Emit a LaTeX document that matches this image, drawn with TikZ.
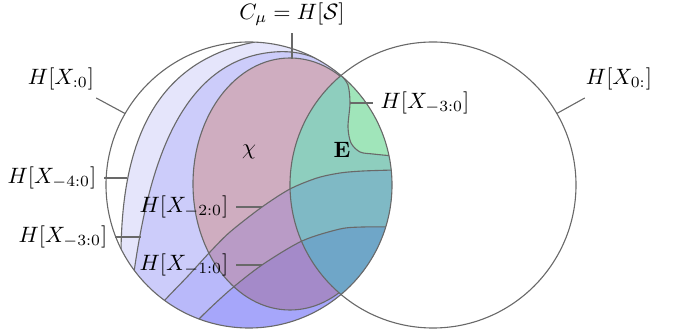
\documentclass[tikz,border=0pt]{standalone}
\usepackage{amsmath, amssymb}
\usepackage{xcolor}
\usepackage{tikz}
\usetikzlibrary{calc}
\definecolor{linegray}{RGB}{105,105,105}
\definecolor{lavfour}{RGB}{229,229,251}
\definecolor{lavthree}{RGB}{204,204,250}
\definecolor{bluetwo}{RGB}{185,185,250}
\definecolor{blueone}{RGB}{166,166,250}
\definecolor{cmupink}{RGB}{207,173,192}
\definecolor{cmutwo}{RGB}{185,155,198}
\definecolor{cmuone}{RGB}{164,138,201}
\definecolor{eeteal}{RGB}{142,206,190}
\definecolor{eegreen}{RGB}{160,229,186}
\definecolor{eetwo}{RGB}{127,185,197}
\definecolor{eeone}{RGB}{111,166,200}

% boundaries of the nested past blocks (pixel grid, y down)
\newcommand{\curveone}{(121,252) .. controls (122,150) and (150,62) .. (255,42)}
\newcommand{\curvetwo}{(134,272) .. controls (146,190) and (170,72) .. (260,54) .. controls (300,46) and (325,60) .. (341,75)}
\newcommand{\piececurve}{plot[smooth] coordinates {(341,75) (348,85) (350,103) (348,127) (351,143) (360,152) (373,154) (393,156)}}
\newcommand{\curvea}{plot[smooth] coordinates {(150,318) (165,300) (188,276) (210,252) (230,232) (262,207) (290,189) (317,178) (340,173) (363,171) (395,170)}}
\newcommand{\curveb}{plot[smooth] coordinates {(185,336) (200,318) (230,290) (262,265) (302,241) (340,229) (363,227) (390,227)}}

\begin{document}
\begin{tikzpicture}[x=0.45pt, y=-0.45pt,
  outline/.style={draw=linegray, line width=0.5pt},
  leader/.style={draw=linegray, line width=0.5pt}]
\useasboundingbox (0,0) rectangle (677,331);

% --- Past blocks ---
\begin{scope}
\clip (249,185) circle (143);
\fill[lavfour] \curveone -- (255,30) -- (450,30) -- (450,400) -- (100,400) -- (100,255) -- cycle;
\fill[lavthree] \curvetwo -- plot[smooth] coordinates {(341,75) (348,85) (350,103) (348,127) (351,143) (360,152) (373,154) (393,156)}
  -- (460,156) -- (460,400) -- (100,400) -- (100,290) -- cycle;
\fill[bluetwo] \curvea -- (460,170) -- (460,400) -- (100,400) -- cycle;
\fill[blueone] \curveb -- (460,227) -- (460,400) -- (150,400) -- cycle;
\end{scope}

% --- Statistical complexity ---
\begin{scope}
\clip (290,184) ellipse (97 and 126);
\fill[cmupink] (290,184) ellipse (97 and 126);
\fill[cmutwo] \curvea -- (460,170) -- (460,400) -- (100,400) -- cycle;
\fill[cmuone] \curveb -- (460,227) -- (460,400) -- (150,400) -- cycle;
\end{scope}

% --- Excess entropy lens ---
\begin{scope}
\clip (249,185) circle (143);
\clip (433,185) circle (143);
\fill[eeteal] (249,185) circle (143);
\fill[eegreen] \piececurve -- (460,156) -- (460,40) -- (341,40) -- cycle;
\fill[eetwo] \curvea -- (460,170) -- (460,400) -- (100,400) -- cycle;
\fill[eeone] \curveb -- (460,227) -- (460,400) -- (150,400) -- cycle;
\end{scope}

% --- Outlines ---
\begin{scope}[even odd rule]
\clip (0,0) rectangle (677,331) (433,185) circle (143);
\draw[outline] (290,184) ellipse (97 and 126);
\end{scope}
\begin{scope}
\clip (249,185) circle (143);
\draw[outline] \curveone;
\draw[outline] \curvetwo;
\draw[outline] \piececurve;
\draw[outline] \curvea;
\draw[outline] \curveb;
\end{scope}
\draw[outline] (249,185) circle (143);
\draw[outline] (433,185) circle (143);

% --- Labels ---
\node (cmu) at (292,14) {$C_\mu = H[\mathcal{S}]$};
\coordinate (cmutop) at (292,59);
\draw[leader] (cmu) -- (cmutop);
\node (past) at (61,79) {$H[X_{:0}]$};
\coordinate (pastrim) at (125,113.5);
\draw[leader] (past) -- (pastrim);
\node (future) at (619,79) {$H[X_{0:}]$};
\coordinate (futrim) at (556.8,113.5);
\draw[leader] (future) -- (futrim);
\node (lfour) at (52,178) {$H[X_{-4:0}]$};
\coordinate (cfour) at (127,178);
\draw[leader] (lfour) -- (cfour);
\node (lthree) at (63,237) {$H[X_{-3:0}]$};
\coordinate (cthree) at (141,237);
\draw[leader] (lthree) -- (cthree);
\node (ltwo) at (184,207) {$H[X_{-2:0}]$};
\coordinate (ctwo) at (262,207);
\draw[leader] (ltwo) -- (ctwo);
\node (lone) at (184,265) {$H[X_{-1:0}]$};
\coordinate (cone) at (262,265);
\draw[leader] (lone) -- (cone);
\node (rthree) at (425,103) {$H[X_{-3:0}]$};
\coordinate (cpiece) at (350,103);
\draw[leader] (rthree) -- (cpiece);
\node (chi) at (249,152) {$\chi$};
\node (ee) at (342,150) {$\mathbf{E}$};

\end{tikzpicture}
\end{document}
